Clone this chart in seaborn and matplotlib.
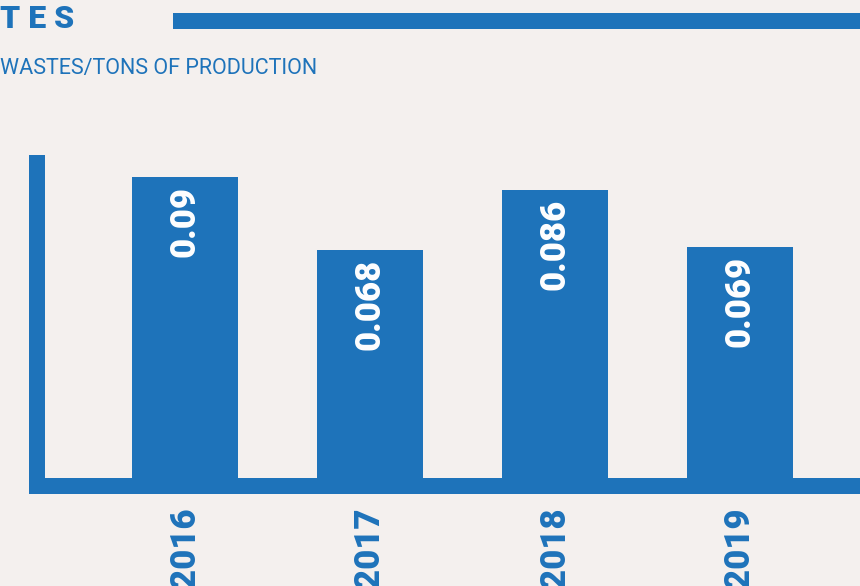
import matplotlib
matplotlib.use("Agg")
import matplotlib.pyplot as plt
from matplotlib.patches import Rectangle
from matplotlib import font_manager
import seaborn as sns
import pandas as pd

years = ["2016", "2017", "2018", "2019"]
values = [0.09, 0.068, 0.086, 0.069]
value_labels = ["0.09", "0.068", "0.086", "0.069"]
title_text = "T E S"
subtitle_text = "WASTES/TONS OF PRODUCTION"

BLUE = "#1e73ba"
BG = "#f4f0ee"
W, H = 860, 586

sns.set_theme(style="white")
plt.rcParams["font.family"] = ["Roboto", "DejaVu Sans"]

print(sorted({(f.name, f.weight) for f in font_manager.fontManager.ttflist if f.name in ("Roboto", "Lato", "Open Sans", "Inter", "Noto Sans")}))

fig = plt.figure(figsize=(W / 100, H / 100), dpi=100, facecolor=BG)

def fx(px):
    return px / W

def fy(py):
    return (H - py) / H

ax = fig.add_axes([fx(45), fy(478), fx(815), 323 / H])
ax.set_facecolor("none")

df = pd.DataFrame({"year": years, "value": values})
sns.barplot(data=df, x="year", y="value", color=BLUE, saturation=1,
            width=106 / 185, linewidth=0, ax=ax)

ax.set_xlim((45 - 185) / 185, (860 - 185) / 185)
ax.set_ylim(0, 323 / 3350)
for s in ax.spines.values():
    s.set_visible(False)
ax.set_yticks([])
ax.set_xlabel("")
ax.set_ylabel("")
ax.tick_params(axis="x", length=0, pad=21.5, colors=BLUE)
for lab in ax.get_xticklabels():
    lab.set_rotation(90)
    lab.set_fontsize(25)
    lab.set_fontweight("black")
    lab.set_color(BLUE)
    lab.set_va("top")
    lab.set_ha("center")

for i, (v, t) in enumerate(zip(values, value_labels)):
    ax.annotate(t, xy=(i, v), xytext=(0, -9), textcoords="offset pixels",
                rotation=90, ha="center", va="top", color="white",
                fontsize=25, fontweight="black")

# decorative axis lines and header bar
fig.add_artist(Rectangle((fx(29), fy(494)), fx(16), 339 / H, transform=fig.transFigure,
                         facecolor=BLUE, edgecolor="none"))
fig.add_artist(Rectangle((fx(29), fy(494)), fx(831), 16 / H, transform=fig.transFigure,
                         facecolor=BLUE, edgecolor="none"))
fig.add_artist(Rectangle((fx(173), fy(29)), fx(687), 16 / H, transform=fig.transFigure,
                         facecolor=BLUE, edgecolor="none"))

fig.text(fx(0), fy(28), title_text, color=BLUE, fontsize=23, fontweight="black",
         ha="left", va="baseline")
fig.text(fx(0), fy(74), subtitle_text, color=BLUE, fontsize=15.5,
         ha="left", va="baseline")

fig.savefig("out.png", dpi=100, facecolor=BG)
